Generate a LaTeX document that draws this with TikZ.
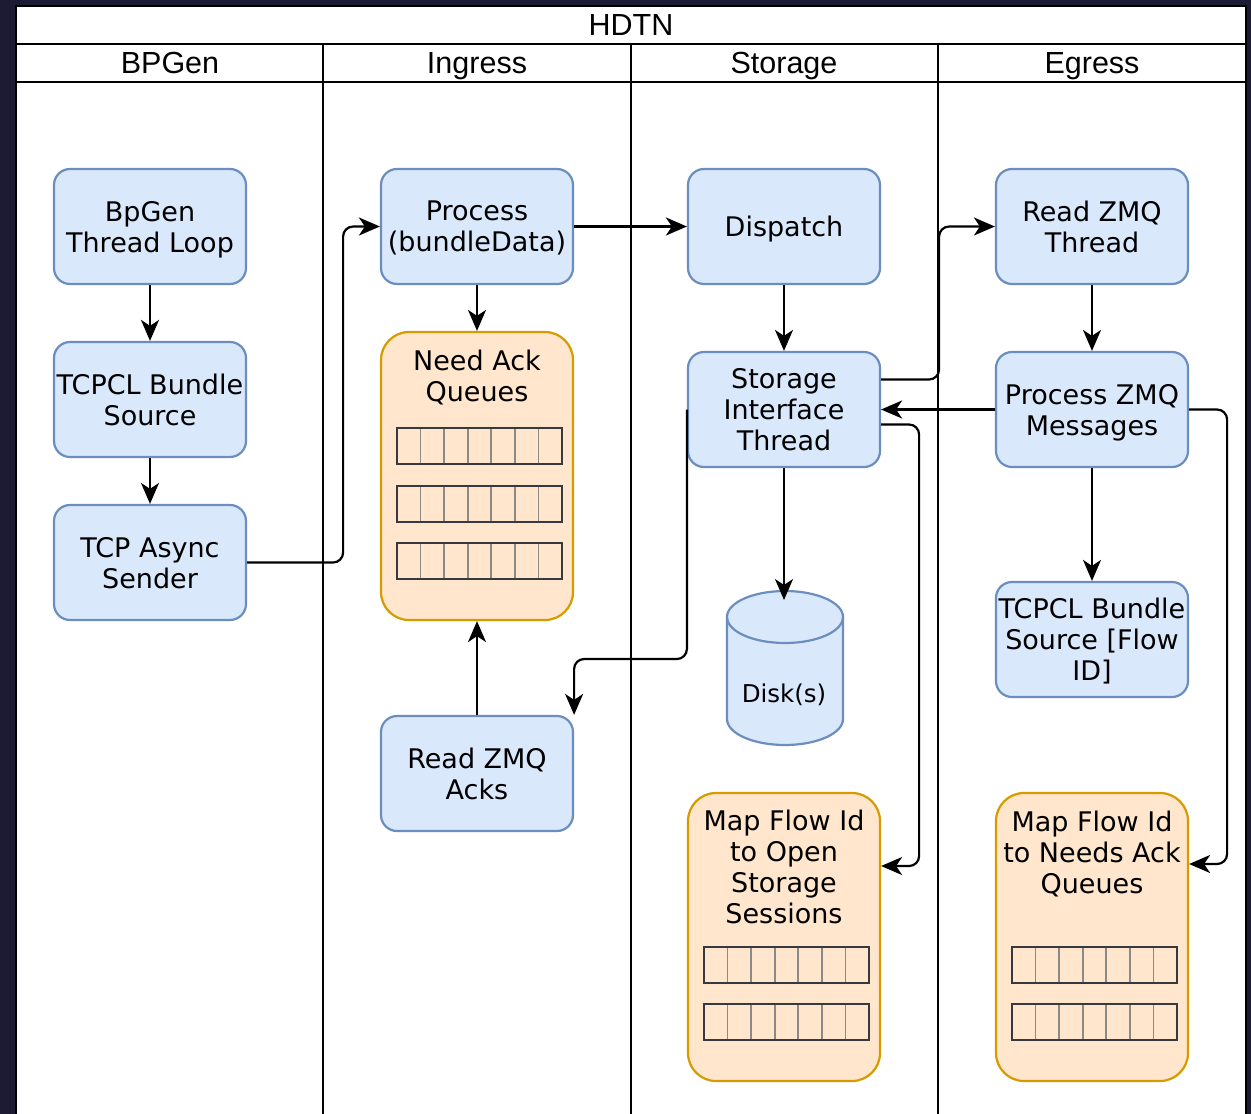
\documentclass[tikz,border=0pt]{standalone}
\usepackage{fontspec}
\setmainfont{DejaVu Sans}
\newfontfamily\hdrfont{Liberation Sans}
\usetikzlibrary{arrows.meta}
\definecolor{bgdark}{HTML}{1C1B33}
\definecolor{bfill}{HTML}{DAE8FC}
\definecolor{bstroke}{HTML}{6C8EBF}
\definecolor{ofill}{HTML}{FFE6CC}
\definecolor{ostroke}{HTML}{D79B00}
\definecolor{qdark}{HTML}{36393D}
\definecolor{qlight}{HTML}{8A8A8A}
\newcommand{\queuebar}[2]{%
  \foreach \i in {1,...,6} \draw[qlight, line width=1.6pt] ({#1+\i*165/7},#2) -- ++(0,36);
  \draw[qdark, line width=2.2pt] (#1,#2) rectangle ++(165,36);}
\begin{document}
\begin{tikzpicture}[x=1pt,y=-1pt,
 bluebox/.style={draw=bstroke, fill=bfill, line width=2.2pt, rounded corners=16pt, minimum width=192pt, minimum height=115pt, align=center, inner sep=0pt, text depth=0pt, font=\fontsize{27}{31}\selectfont},
 orangebox/.style={draw=ostroke, fill=ofill, line width=2.2pt, rounded corners=28pt, minimum width=192pt, minimum height=288pt, inner sep=0pt},
 boxtext/.style={align=center, inner sep=0pt, text depth=0pt, font=\fontsize{27}{31}\selectfont},
 hdr/.style={font=\hdrfont\fontsize{30.5}{32}\selectfont, inner sep=0pt, anchor=base},
 lane/.style={line width=2.2pt, draw=black},
 arr/.style={line width=2.2pt, -{Stealth[length=21pt,width=18pt,inset=6pt]}, rounded corners=10pt},
]
\useasboundingbox (0,0) rectangle (1251,1114);
\clip (0,0) rectangle (1251,1114);
% background and pool
\fill[bgdark] (0,0) rectangle (1251,1114);
\fill[white] (16,6) rectangle (1246,1130);
\draw[lane] (16,1130) -- (16,6) -- (1246,6) -- (1246,1130);
\draw[lane] (16,44) -- (1246,44);
\draw[lane] (16,82) -- (1246,82);
\draw[lane] (323,44) -- (323,1130);
\draw[lane] (631,44) -- (631,1130);
\draw[lane] (938,44) -- (938,1130);
\node[hdr] (hdtn) at (631,35) {HDTN};
\node[hdr] (hbpgen) at (170,73.5) {BPGen};
\node[hdr] (hingress) at (477,73.5) {Ingress};
\node[hdr] (hstorage) at (784,73.5) {Storage};
\node[hdr] (hegress) at (1092,73.5) {Egress};

% BPGen lane
\node[bluebox] (bgl) at (150,226.5) {BpGen\\Thread Loop};
\node[bluebox] (tbs) at (150,399.5) {TCPCL Bundle\\Source};
\node[bluebox] (tas) at (150,562.5) {TCP Async\\Sender};

% Ingress lane
\node[bluebox] (proc) at (477,226.5) {Process\\(bundleData)};
\node[orangebox] (naq) at (477,476) {};
\node[boxtext] (naqt) at (477,376) {Need Ack\\Queues};
\queuebar{397}{428}
\queuebar{397}{486}
\queuebar{397}{543}
\node[bluebox] (rza) at (477,773.5) {Read ZMQ\\Acks};

% Storage lane
\node[bluebox] (disp) at (784,226.5) {Dispatch};
\node[bluebox] (sit) at (784,409.5) {Storage\\Interface\\Thread};
\fill[bfill] (727,617) -- (727,719) arc[start angle=180,end angle=360,x radius=58pt,y radius=26pt] -- (843,617) arc[start angle=0,end angle=180,x radius=58pt,y radius=26pt] -- cycle;
\draw[bstroke, line width=2.2pt] (727,617) -- (727,719) arc[start angle=180,end angle=360,x radius=58pt,y radius=26pt] -- (843,617) arc[start angle=0,end angle=180,x radius=58pt,y radius=26pt] -- cycle;
\draw[bstroke, line width=2.2pt] (727,617) arc[start angle=180,end angle=360,x radius=58pt,y radius=26pt];
\coordinate (disktop) at (784,600);
\node[boxtext, font=\fontsize{24.5}{29}\selectfont] (disk) at (784,693) {Disk(s)};
\node[orangebox] (mfs) at (784,937) {};
\node[boxtext] (mfst) at (784,867) {Map Flow Id\\to Open\\Storage\\Sessions};
\queuebar{704}{947}
\queuebar{704}{1004}

% Egress lane
\node[bluebox] (rzt) at (1092,226.5) {Read ZMQ\\Thread};
\node[bluebox] (pzm) at (1092,409.5) {Process ZMQ\\Messages};
\node[bluebox] (tbf) at (1092,639.5) {TCPCL Bundle\\Source [Flow\\ID]};
\node[orangebox] (mfe) at (1092,937) {};
\node[boxtext] (mfet) at (1092,852) {Map Flow Id\\to Needs Ack\\Queues};
\queuebar{1012}{947}
\queuebar{1012}{1004}

% connectors
\draw[arr] (bgl.south) -- (tbs.north);
\draw[arr] (tbs.south) -- (tas.north);
\draw[arr] (tas.east) -- ++(96,0) |- (proc.west);
\draw[arr] (proc.east) -- (disp.west);
\draw[arr] (proc.south) -- (naq.north);
\draw[arr] (rza.north) -- (naq.south);
\draw[arr] (disp.south) -- (sit.north);
\draw[arr] (sit.south) -- (disktop);
\draw[arr] ([yshift=30pt]sit.east) -- ++(58,0) |- (rzt.west);
\draw[arr] (pzm.west) -- (sit.east);
\draw[arr] ([yshift=-15pt]sit.east) -- ++(38,0) |- ([yshift=71pt]mfs.east);
\draw[arr] (sit.west) -- ++(0,249.5) -| (rza.north east);
\draw[arr] (rzt.south) -- (pzm.north);
\draw[arr] (pzm.south) -- (tbf.north);
\draw[arr] (pzm.east) -- ++(38,0) |- ([yshift=73pt]mfe.east);
\end{tikzpicture}
\end{document}
